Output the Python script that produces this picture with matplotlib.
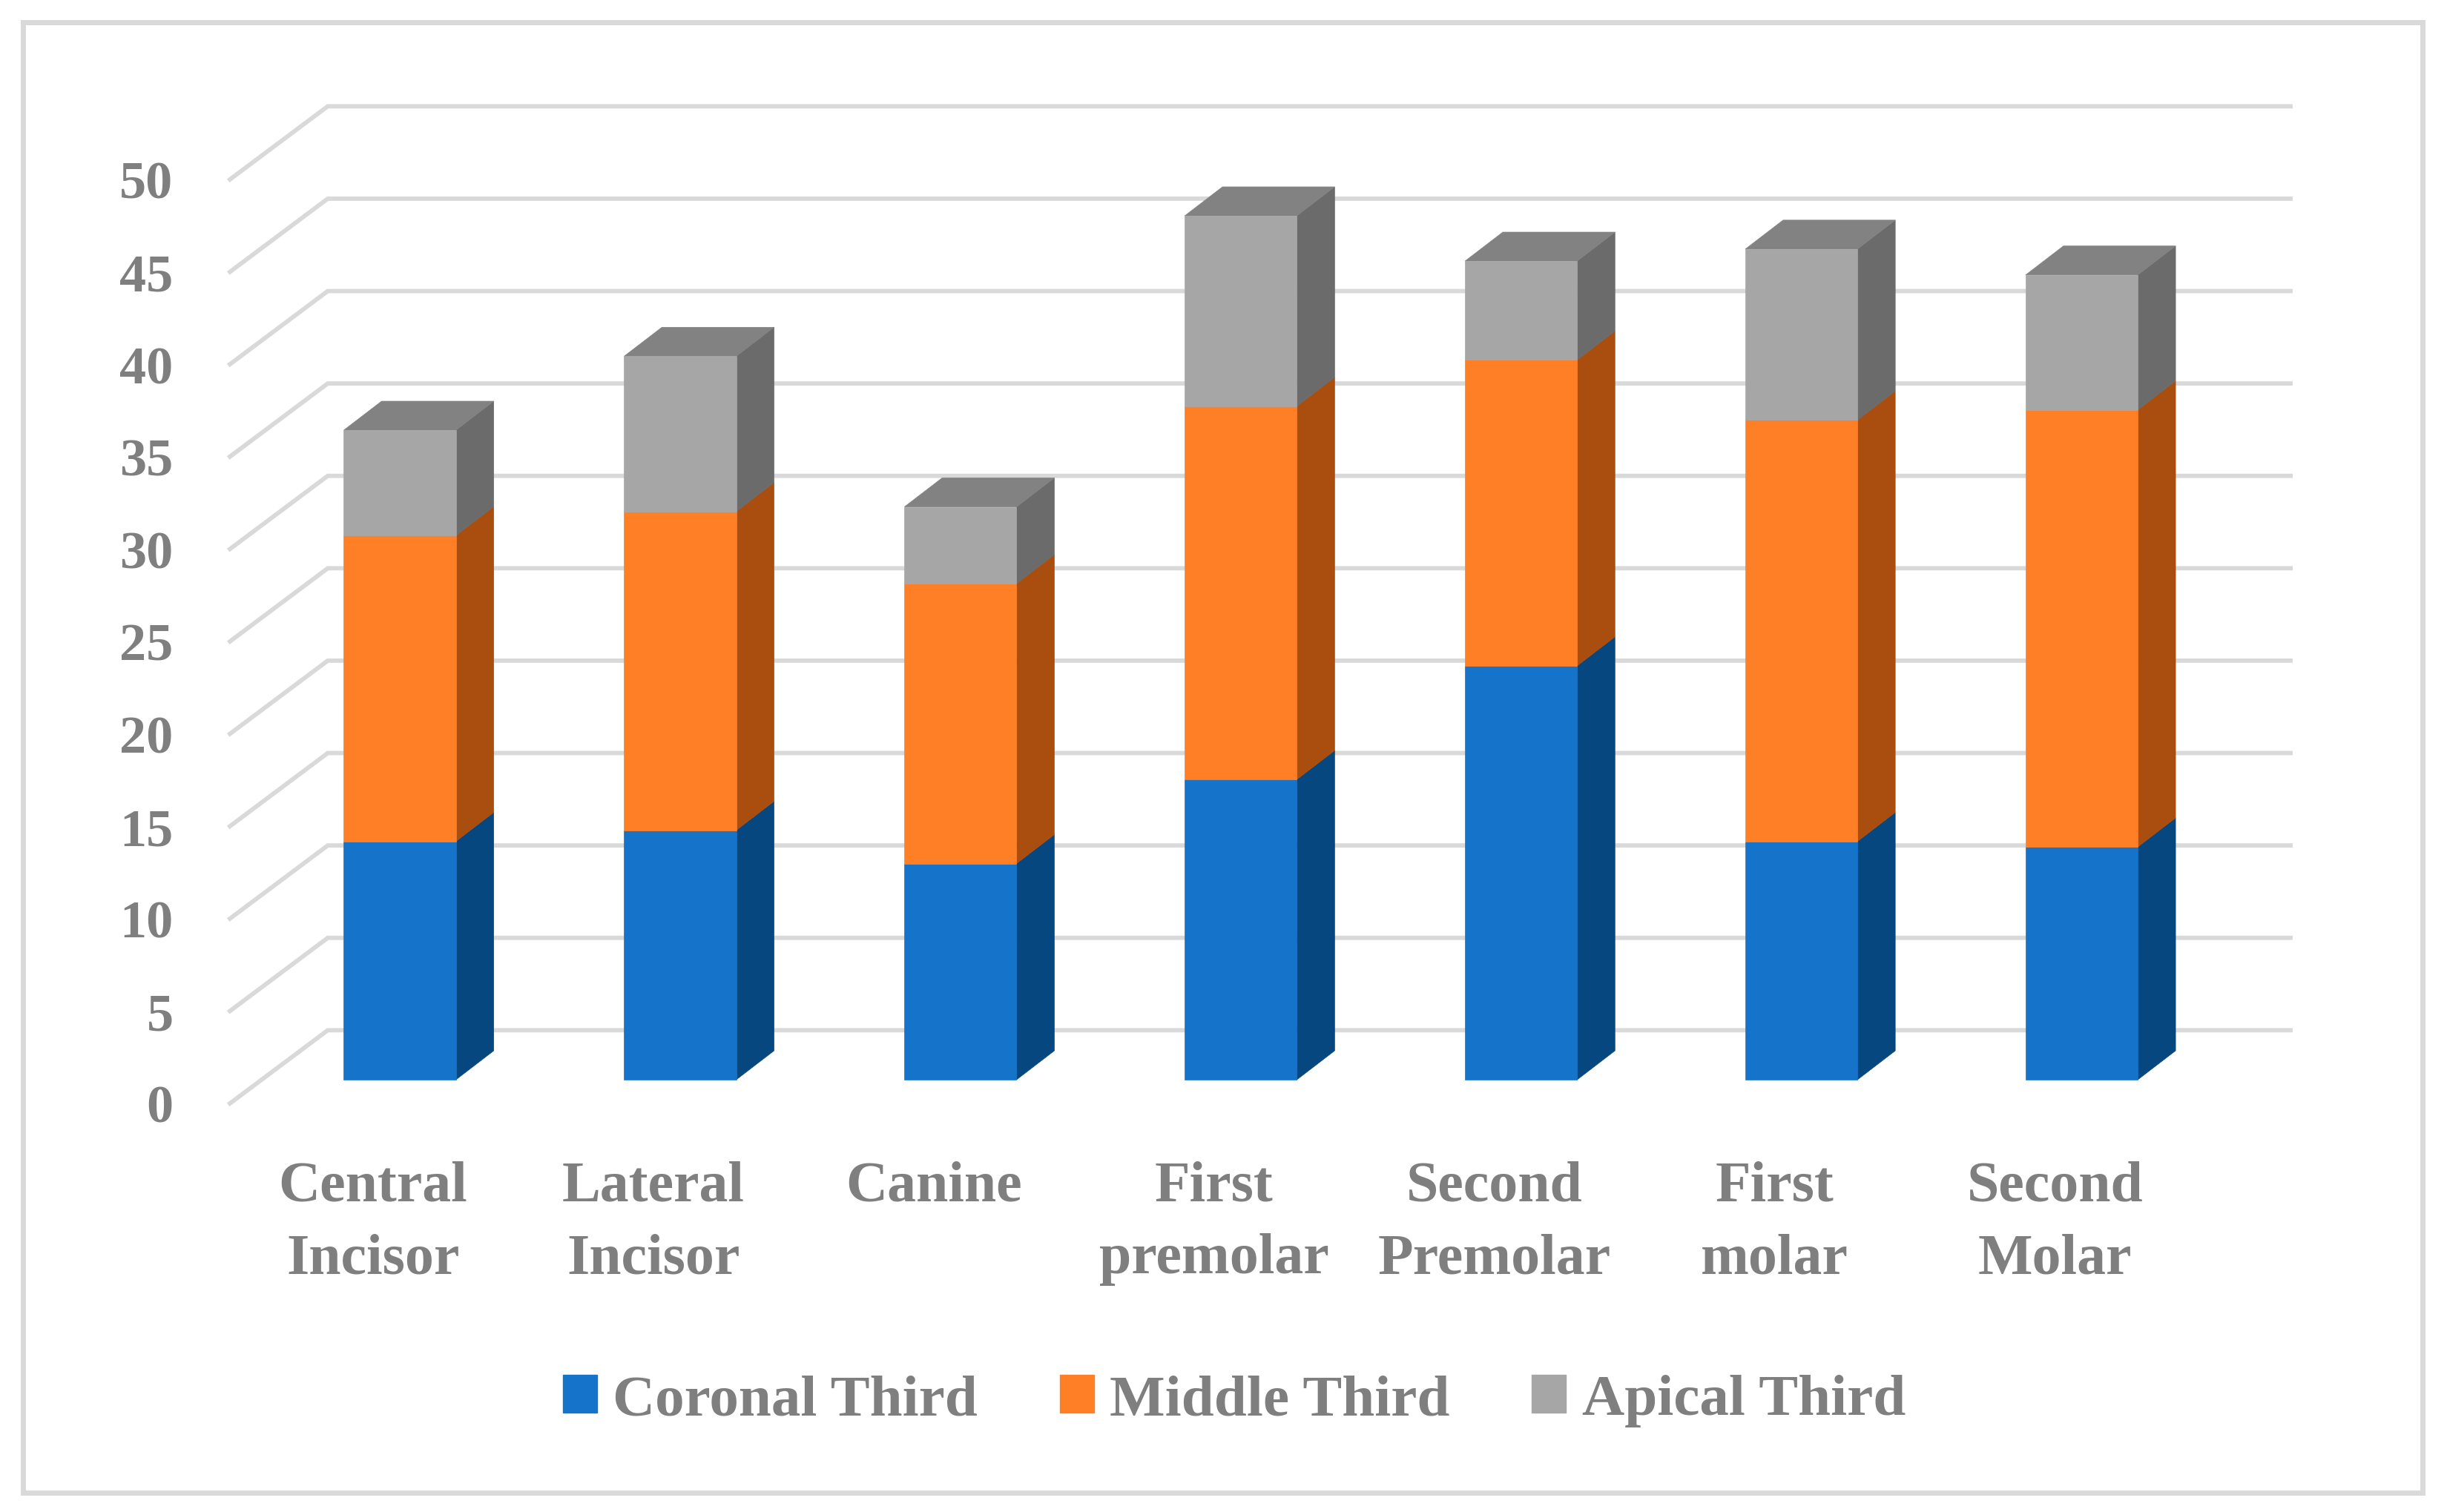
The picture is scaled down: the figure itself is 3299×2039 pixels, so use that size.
import matplotlib
matplotlib.use('Agg')
import matplotlib.pyplot as plt
from matplotlib.patches import Polygon, Patch, Rectangle

# values
teeth = ['Central\nIncisor', 'Lateral\nIncisor', 'Canine', 'First\npremolar',
         'Second\nPremolar', 'First\nmolar', 'Second\nMolar']
coronal = [12.9, 13.5, 11.7, 16.25, 22.4, 12.9, 12.6]
middle = [16.55, 17.25, 15.15, 20.2, 16.55, 22.8, 23.65]
apical = [5.7, 8.4, 4.15, 10.3, 5.35, 9.25, 7.3]
series_names = ['Coronal Third', 'Middle Third', 'Apical Third']
y_ticks = [0, 5, 10, 15, 20, 25, 30, 35, 40, 45, 50]

front_cols = ['#1673CA', '#FF7F27', '#A6A6A6']
side_cols = ['#07477F', '#AA4E10', '#6B6B6B']
top_col = '#828282'
grid_col = '#D9D9D9'
text_col = '#7F7F7F'

W, H = 3299, 2040

plt.rcParams['font.family'] = ['Liberation Serif', 'DejaVu Serif']
plt.rcParams['font.weight'] = 'bold'

fig = plt.figure(figsize=(W / 100, H / 100), dpi=100)
fig.patch.set_facecolor('white')

# outer frame of the chart
fig.add_artist(Rectangle((31 / W, 1 - 2014 / H), (3266 - 31) / W, (2014 - 31) / H,
                         transform=fig.transFigure, fill=False,
                         edgecolor=grid_col, linewidth=5))

# axes box = front plane of the fake 3d floor
ax = fig.add_axes([310 / W, 1 - 1489 / H, (3088 - 310) / W, (1489 - 243) / H])
ax.set_xlim(-0.511, 6.84)
ax.set_ylim(0, 50)
ax.patch.set_alpha(0)
for s in ax.spines.values():
    s.set_visible(False)

wall_dx = 0.349     # depth of the back wall, x units
wall_dy = 3.96      # depth of the back wall, y units
xl, xr = ax.get_xlim()

for v in y_ticks:
    ax.plot([xl, xl + wall_dx, xr], [v, v + wall_dy, v + wall_dy], color=grid_col,
            lw=4.2, clip_on=False, zorder=1, solid_joinstyle='miter')

bar_w = 0.4
bar_off = -0.105    # left edge of bar from tick
base = 1.28         # bar foot above axis front line
dx = 0.135
dy = 1.57

for i in range(len(teeth)):
    left = i + bar_off
    right = left + bar_w
    bottom = base
    for vals, fc, sc in zip([coronal, middle, apical], front_cols, side_cols):
        top = bottom + vals[i]
        ax.add_patch(Polygon([(right, bottom), (right + dx, bottom + dy),
                              (right + dx, top + dy), (right, top)],
                             facecolor=sc, edgecolor=sc, lw=0.5, clip_on=False, zorder=3))
        ax.bar(left, vals[i], width=bar_w, bottom=bottom, align='edge', color=fc,
               edgecolor=fc, lw=0.5, clip_on=False, zorder=4)
        bottom = top
    ax.add_patch(Polygon([(left, bottom), (left + dx, bottom + dy),
                          (right + dx, bottom + dy), (right, bottom)],
                         facecolor=top_col, edgecolor=top_col, lw=0.5,
                         clip_on=False, zorder=3))

ax.set_yticks(y_ticks)
ax.set_xticks(range(len(teeth)))
ax.set_xticklabels(teeth, linespacing=1.5)
ax.tick_params(axis='y', length=0, pad=55, labelsize=52, labelcolor=text_col)
ax.tick_params(axis='x', length=0, pad=55, labelsize=56, labelcolor=text_col)

handles = [Patch(facecolor=c, edgecolor=c, label=n) for c, n in zip(front_cols, series_names)]
fig.legend(handles=handles, loc='center', bbox_to_anchor=(1664 / W, 1 - 1890 / H),
           ncol=3, frameon=False, fontsize=57, labelcolor=text_col,
           handlelength=0.58, handleheight=0.6, handletextpad=0.27,
           columnspacing=1.4)

fig.savefig('out.png', dpi=100)
